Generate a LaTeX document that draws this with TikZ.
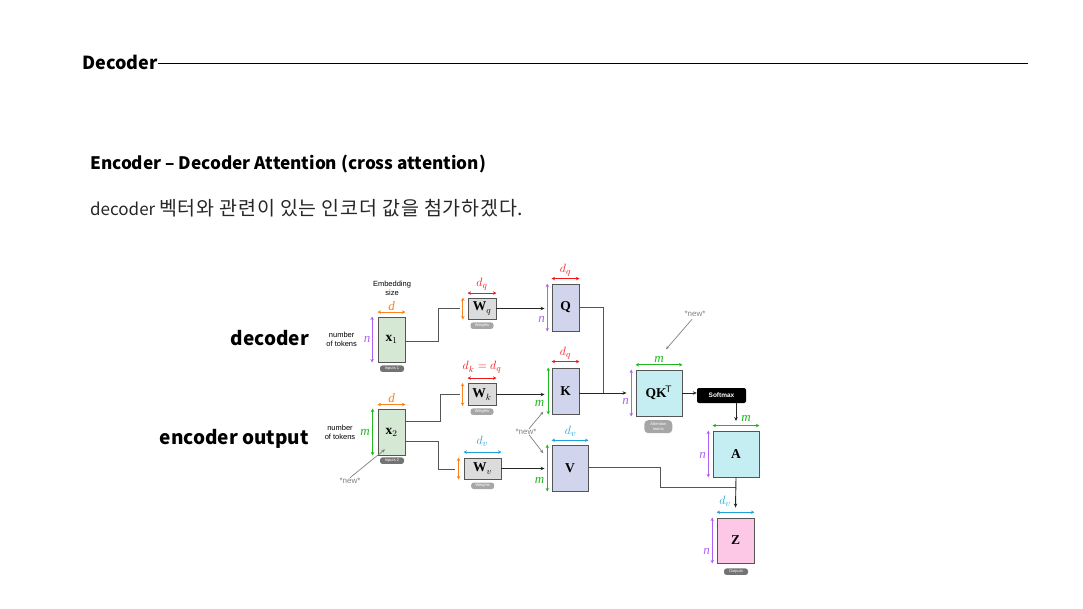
\documentclass[tikz,border=0pt]{standalone}
\usepackage{fontspec}
\setmainfont{Liberation Serif}
\newfontfamily\kr{Noto Sans CJK KR}
\newfontfamily\krwide[LetterSpace=4]{Noto Sans CJK KR}
\newfontfamily\lsans{Liberation Sans}
\usetikzlibrary{arrows.meta,calc}
\definecolor{cgreen}{HTML}{D5E8D4}
\definecolor{cgray}{HTML}{DCDCDC}
\definecolor{clav}{HTML}{D0D4EC}
\definecolor{ccyan}{HTML}{C5EEF3}
\definecolor{cpink}{HTML}{FCC8E6}
\definecolor{dorange}{HTML}{F7821E}
\definecolor{dred}{HTML}{F01818}
\definecolor{dpurple}{HTML}{B060F5}
\definecolor{dgreen}{HTML}{20B820}
\definecolor{dblue}{HTML}{20A0DC}
\definecolor{lgray}{HTML}{555555}
\begin{document}
\begin{tikzpicture}[x=1pt,y=-1pt,
  mat/.style={draw=lgray,line width=0.9pt,inner sep=0pt,font=\bfseries\fontsize{13.5}{13.5}\selectfont},
  dimarr/.style={{Stealth[length=3.5pt,width=3.5pt]}-{Stealth[length=3.5pt,width=3.5pt]},line width=0.9pt},
  dimlab/.style={inner sep=0pt,font=\itshape\fontsize{13}{13}\selectfont},
  conn/.style={draw=lgray,line width=0.9pt},
  carr/.style={conn,-{Stealth[length=4pt,width=3.5pt]},draw=black!85},
  pill/.style={fill=black!55,text=white,rounded corners=2.5pt,inner sep=0pt,font=\lsans\fontsize{4}{4}\selectfont},
  small/.style={inner sep=0pt,font=\lsans\fontsize{7.5}{9}\selectfont,align=center},
  newlab/.style={inner sep=0pt,text=black!50,font=\lsans\fontsize{8}{8}\selectfont},
  newarr/.style={draw=black!50,line width=0.7pt,-{Stealth[length=3.5pt,width=3pt]}}
]
\useasboundingbox (0,0) rectangle (1083,609);
% header
\node[anchor=west,inner sep=0pt,font=\kr\bfseries\fontsize{18}{18}\selectfont] (hdr) at (82,62) {Decoder};
\coordinate (hend) at (1028,63);
\draw[line width=0.7pt] (hdr.east |- hend) -- (hend);
\node[anchor=west,inner sep=0pt,font=\kr\bfseries\fontsize{17.2}{17.2}\selectfont] (ttl) at (90,164) {Encoder – Decoder Attention (cross attention)};
\node[anchor=west,inner sep=0pt,font=\kr\fontsize{17}{17}\selectfont,text=black!85] (sub) at (90,208) {decoder {\krwide\fontsize{19.5}{19.5}\selectfont 벡터와 관련이 있는 인코더 값을 첨가하겠다.}};
\node[anchor=east,inner sep=0pt,font=\kr\bfseries\fontsize{19}{19}\selectfont] (ldec) at (309,338) {decoder};
\node[anchor=east,inner sep=0pt,font=\kr\bfseries\fontsize{19}{19}\selectfont] (lenc) at (309,439) {encoder output};

% boxes
\node[mat,fill=cgreen,minimum width=27pt,minimum height=45pt] (x1) at (391.5,339.5) {$\mathbf{x}_1$};
\node[mat,fill=cgreen,minimum width=27pt,minimum height=46pt] (x2) at (391.5,432) {$\mathbf{x}_2$};
\node[mat,fill=cgray,minimum width=28pt,minimum height=21pt] (wq) at (482,308.5) {$\mathbf{W}_q$};
\node[mat,fill=cgray,minimum width=28pt,minimum height=22pt] (wk) at (482,394.5) {$\mathbf{W}_k$};
\node[mat,fill=cgray,minimum width=37pt,minimum height=21pt] (wv) at (482.5,468.5) {$\mathbf{W}_v$};
\node[mat,fill=clav,minimum width=27pt,minimum height=47pt] (q) at (565.5,307.5) {Q};
\node[mat,fill=clav,minimum width=27pt,minimum height=46pt] (k) at (565.5,391) {K};
\node[mat,fill=clav,minimum width=36pt,minimum height=46pt] (v) at (570,468) {V};
\node[mat,fill=ccyan,minimum width=46pt,minimum height=46pt] (qk) at (659,393) {QK$^{\!\mathsf{T}}$};
\node[fill=black,rounded corners=2pt,text=white,inner sep=0pt,minimum width=49pt,minimum height=15pt,font=\lsans\bfseries\fontsize{6.5}{6.5}\selectfont] (sm) at (721.5,395.5) {Softmax};
\node[mat,fill=ccyan,minimum width=46pt,minimum height=46pt] (a) at (736,454) {A};
\node[mat,fill=cpink,minimum width=37pt,minimum height=45pt] (z) at (735.5,540.5) {Z};

% pills
\node[pill,minimum width=24pt,minimum height=6.5pt] (p1) at (392,368.7) {Inputs 1};
\node[pill,minimum width=24pt,minimum height=6.5pt] (p2) at (392,460.7) {Inputs 2};
\node[pill,fill=black!35,minimum width=23pt,minimum height=6.5pt] (pwq) at (482,325.7) {Weights};
\node[pill,fill=black!35,minimum width=23pt,minimum height=6.5pt] (pwk) at (482,411.7) {Weights};
\node[pill,fill=black!35,minimum width=23pt,minimum height=6.5pt] (pwv) at (482.7,485.8) {Weights};
\node[pill,fill=black!35,rounded corners=4pt,minimum width=28pt,minimum height=13pt,align=center,font=\lsans\fontsize{4}{5}\selectfont] (pat) at (658.3,426.7) {Attention\\matrix};
\node[pill,minimum width=24pt,minimum height=6.5pt] (pout) at (736,571.7) {Outputs};

% small texts
\node[small] (emb) at (392,288.5) {Embedding\\size};
\node[small] (nt1) at (341.7,339.5) {number\\of tokens};
\node[small] (nt2) at (340,432) {number\\of tokens};

% dimension arrows
% x1
\draw[dimarr,dorange] ([yshift=4.5pt]x1.north west) -- ([yshift=4.5pt]x1.north east);
\node[dimlab,text=dorange] (x1dl) at (391.5,306) {d};
\draw[dimarr,dpurple] ([xshift=-5.5pt]x1.north west) -- ([xshift=-5.5pt]x1.south west);
\node[dimlab,text=dpurple] (x1nl) at (367,339.5) {n};
% x2
\draw[dimarr,dorange] ([yshift=4pt]x2.north west) -- ([yshift=4pt]x2.north east);
\node[dimlab,text=dorange] (x2dl) at (391.5,398) {d};
\draw[dimarr,dgreen] ([xshift=-5pt]x2.north west) -- ([xshift=-5pt]x2.south west);
\node[dimlab,text=dgreen] (x2ml) at (365,432) {m};
% Wq
\draw[dimarr,dred] ([yshift=4.5pt]wq.north west) -- ([yshift=4.5pt]wq.north east);
\node[dimlab,text=dred] (wql) at (482,284) {$d_q$};
\draw[dimarr,dorange] ([xshift=-4.7pt]wq.north west) -- ([xshift=-4.7pt]wq.south west);
% Wk
\draw[dimarr,dred] ([yshift=5pt]wk.north west) -- ([yshift=5pt]wk.north east);
\node[dimlab,text=dred] (wkl) at (482,367.5) {$d_k = d_q$};
\draw[dimarr,dorange] ([xshift=-5pt]wk.north west) -- ([xshift=-5pt]wk.south west);
% Wv
\draw[dimarr,dblue] ([yshift=5.5pt]wv.north west) -- ([yshift=5.5pt]wv.north east);
\node[dimlab,text=dblue] (wvl) at (482.3,441.7) {$d_v$};
\draw[dimarr,dorange] ([xshift=-5pt]wv.north west) -- ([xshift=-5pt]wv.south west);
% Q
\draw[dimarr,dred] ([yshift=5pt]q.north west) -- ([yshift=5pt]q.north east);
\node[dimlab,text=dred] (ql) at (565.5,270) {$d_q$};
\draw[dimarr,dpurple] ([xshift=-4.3pt]q.north west) -- ([xshift=-4.3pt]q.south west);
\node[dimlab,text=dpurple] (qnl) at (541.5,319) {n};
% K
\draw[dimarr,dred] ([yshift=6pt]k.north west) -- ([yshift=6pt]k.north east);
\node[dimlab,text=dred] (kl) at (565.5,353.5) {$d_q$};
\draw[dimarr,dgreen] ([xshift=-3.3pt]k.north west) -- ([xshift=-3.3pt]k.south west);
\node[dimlab,text=dgreen] (kml) at (539.5,403) {m};
% V
\draw[dimarr,dblue] ([yshift=4.3pt]v.north west) -- ([yshift=4.3pt]v.north east);
\node[dimlab,text=dblue] (vl) at (570.7,431) {$d_v$};
\draw[dimarr,dgreen] ([xshift=-4.3pt]v.north west) -- ([xshift=-4.3pt]v.south west);
\node[dimlab,text=dgreen] (vml) at (539.5,480.7) {m};
% QKT
\draw[dimarr,dgreen] ([yshift=4.7pt]qk.north west) -- ([yshift=4.7pt]qk.north east);
\node[dimlab,text=dgreen] (qkml) at (659,359.3) {m};
\draw[dimarr,dpurple] ([xshift=-4.3pt]qk.north west) -- ([xshift=-4.3pt]qk.south west);
\node[dimlab,text=dpurple] (qknl) at (625.5,401.7) {n};
% A
\draw[dimarr,dgreen] ([yshift=5pt]a.north west) -- ([yshift=5pt]a.north east);
\node[dimlab,text=dgreen] (aml) at (746,418.3) {m};
\draw[dimarr,dpurple] ([xshift=-4.3pt]a.north west) -- ([xshift=-4.3pt]a.south west);
\node[dimlab,text=dpurple] (anl) at (702.5,455) {n};
% Z
\draw[dimarr,dblue] ([yshift=5.3pt]z.north west) -- ([yshift=5.3pt]z.north east);
\node[dimlab,text=dblue] (zl) at (725,501.7) {$d_v$};
\draw[dimarr,dpurple] ([xshift=-4.3pt]z.north west) -- ([xshift=-4.3pt]z.south west);
\node[dimlab,text=dpurple] (znl) at (706.5,551.7) {n};

% connectors
\coordinate (wqin) at (460,308.5);
\draw[conn] (x1.east |- 0,341) -- (438,341) -- (438,308.5) -- (wqin);
\coordinate (wkin) at (460,394.5);
\draw[conn] (x2.east |- 0,421) -- (440,421) -- (440,394.5) -- (wkin);
\coordinate (wvin) at (455,469);
\draw[conn] (x2.east |- 0,441.7) -- (438,441.7) -- (438,469) -- (wvin);
\draw[carr] (wq.east) -- ([xshift=-7pt]q.west |- wq.east);
\draw[carr] (wk.east) -- ([xshift=-7pt]k.west |- wk.east);
\draw[carr] (wv.east) -- ([xshift=-7pt]v.west |- wv.east);
\coordinate (join) at (603.3,393);
\draw[conn] (q.east) -- (q.east -| join) -- (join);
\draw[carr] (k.east |- join) -- ([xshift=-9pt]qk.west);
\draw[carr] (qk.east) -- (sm.west |- qk.east);
\draw[carr] (a.center |- sm.south) -- (a.center |- 0,421);
\coordinate (vj) at (735.7,487.3);
\draw[conn] (v.east |- 0,467.7) -- (660.7,467.7) -- (660.7,487.3) -- (vj);
\draw[carr] (a.south) -- ([yshift=10pt]z.north);

% new labels
\node[newlab] (new1) at (695,313.3) {*new*};
\draw[newarr] ([shift={(-3,3)}]new1.south) -- (666,349.3);
\node[newlab] (new2) at (526,431.7) {*new*};
\draw[newarr] ([xshift=3pt]new2.north) -- (543.3,411.7);
\draw[newarr] ([xshift=3pt]new2.south) -- (543.3,453.3);
\node[newlab] (new3) at (350,480.7) {*new*};
\draw[newarr] (new3.north) -- (385,449.3);
\end{tikzpicture}
\end{document}
